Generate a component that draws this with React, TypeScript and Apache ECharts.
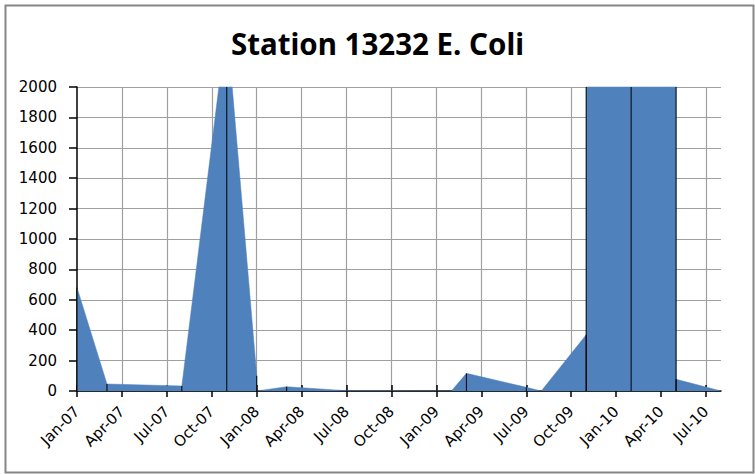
import React, { useEffect, useRef } from "react";
import * as echarts from "echarts";

// Sample month (YYYY-MM) and E. coli value for each sample
const sampleMonths = [
  "2007-01", "2007-03", "2007-08", "2007-11", "2008-01", "2008-01",
  "2008-03", "2008-07", "2009-02", "2009-03", "2009-07", "2009-08",
  "2009-11", "2009-11", "2010-02", "2010-05", "2010-05", "2010-08",
];
const ecoliValues = [
  680, 46, 33, 2420, 100, 0,
  28, 2, 0, 116, 24, 0,
  370, 2420, 2420, 2420, 77, 0,
];
const xTickLabels = [
  "Jan-07", "Apr-07", "Jul-07", "Oct-07", "Jan-08", "Apr-08", "Jul-08",
  "Oct-08", "Jan-09", "Apr-09", "Jul-09", "Oct-09", "Jan-10", "Apr-10", "Jul-10",
];
const yMin = 0;
const yMax = 2000;
const yStep = 200;
const startYear = 2007;
const lastMonth = "2010-08";

const monthIndex = (s: string) => {
  const [y, m] = s.split("-").map(Number);
  return (y - startYear) * 12 + (m - 1);
};

export default function App() {
  const ref = useRef<HTMLDivElement>(null);
  useEffect(() => {
    if (!ref.current) return;
    const chart = echarts.init(ref.current, null, { renderer: "svg" });
    const data = sampleMonths.map((d, i) => [monthIndex(d), ecoliValues[i]]);
    const xMax = monthIndex(lastMonth);
    const tickValues = xTickLabels.map((_, i) => i * 3);
    const labelFont = { fontFamily: "DejaVu Sans", fontSize: 15, color: "#000" };
    chart.setOption({
      animation: false,
      backgroundColor: "#fff",
      title: {
        text: "Station 13232 E. Coli",
        left: "center",
        top: 23,
        textStyle: { fontFamily: "Noto Sans", fontWeight: "bold", fontSize: 29.5, color: "#000" },
      },
      graphic: [
        {
          type: "rect",
          left: 3,
          top: 3,
          shape: { x: 0, y: 0, width: 748, height: 467 },
          style: { fill: "none", stroke: "#868686", lineWidth: 2 },
          silent: true,
        },
      ],
      grid: { left: 77, right: 34, top: 87, bottom: 83, containLabel: false },
      xAxis: [
        {
          type: "value",
          min: 0,
          max: xMax,
          interval: 3,
          axisLine: { show: true, onZero: true, lineStyle: { color: "#000", width: 1.5 } },
          axisTick: { show: true, customValues: tickValues, length: 6, lineStyle: { color: "#000", width: 1.5 } },
          axisLabel: {
            ...labelFont,
            customValues: tickValues,
            rotate: 45,
            margin: 18,
            formatter: (v: number) => xTickLabels[Math.round(v / 3)] ?? "",
          },
          splitLine: { show: false },
        },
        {
          type: "value",
          position: "bottom",
          min: 0,
          max: xMax,
          interval: 3,
          axisLine: { show: false },
          axisTick: { show: true, inside: true, customValues: tickValues, length: 6, lineStyle: { color: "#000", width: 1.5 } },
          axisLabel: { show: false },
          splitLine: { show: false },
        },
      ],
      yAxis: {
        type: "value",
        min: yMin,
        max: yMax,
        interval: yStep,
        axisLine: { show: true, lineStyle: { color: "#000", width: 1.5 } },
        axisTick: { show: true, length: 8, lineStyle: { color: "#000", width: 1.5 } },
        axisLabel: { ...labelFont, margin: 20, formatter: (v: number) => String(v) },
        splitLine: { show: true, lineStyle: { color: "#a0a0a0", width: 1.2 } },
      },
      series: [
        {
          type: "line",
          data,
          showSymbol: false,
          symbol: "none",
          clip: true,
          lineStyle: { width: 0.5, color: "#4F81BD" },
          areaStyle: { color: "#4F81BD", opacity: 1 },
          markLine: {
            silent: true,
            symbol: "none",
            label: { show: false },
            lineStyle: { color: "#a0a0a0", width: 1.2, type: "solid" },
            data: tickValues.slice(1).map((v) => ({ xAxis: v })),
            z: 0,
          },
          z: 2,
        },
        {
          type: "custom",
          data,
          z: 3,
          renderItem: (params: any, api: any) => {
            const x = api.value(0);
            const y = api.value(1);
            const top = api.coord([x, Math.min(y, yMax)]);
            const bottom = api.coord([x, 0]);
            return {
              type: "line",
              shape: { x1: top[0], y1: top[1], x2: bottom[0], y2: bottom[1] },
              style: { stroke: "#000", lineWidth: 1 },
            };
          },
        },
      ],
    });
    return () => chart.dispose();
  }, []);
  return (
    <div
      ref={ref}
      style={{ position: "fixed", left: 0, top: 0, width: 755, height: 474 }}
    />
  );
}
